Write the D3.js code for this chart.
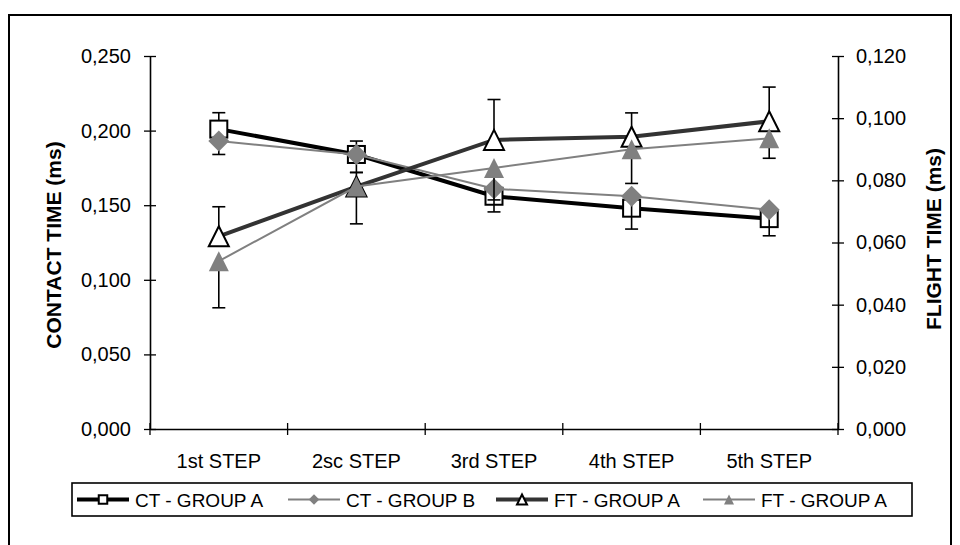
<!DOCTYPE html>
<html>
<head>
<meta charset="utf-8">
<script src="https://cdn.jsdelivr.net/npm/d3@7"></script>
<style>
  html, body { margin: 0; padding: 0; background: #fff; }
  svg text { font-family: "Liberation Sans", Arial, sans-serif; }
</style>
</head>
<body>
<svg id="chart" width="960" height="545"></svg>
<script>
// ---- data ----
const categories = ["1st STEP", "2sc STEP", "3rd STEP", "4th STEP", "5th STEP"];
const ctGroupA    = [0.201, 0.184, 0.156, 0.148, 0.141];
const ctGroupAErr = [0.011, 0.009, 0.005, 0.005, 0.005];   // plus
const ctGroupB    = [0.193, 0.184, 0.161, 0.156, 0.147];
const ctGroupBErr = [0.009, 0.012, 0.0155, 0.022, 0.0175]; // minus
const ftGroupA    = [0.062, 0.078, 0.093, 0.094, 0.099];
const ftGroupAErr = [0.0095, 0.0045, 0.013, 0.0077, 0.011]; // plus
const ftGroupA2   = [0.054, 0.078, 0.084, 0.090, 0.0935];
const ftGroupA2Err= [0.015, 0.012, 0.0103, 0.011, 0.0064];  // minus
const leftTicks  = [0, 0.05, 0.10, 0.15, 0.20, 0.25];
const rightTicks = [0, 0.02, 0.04, 0.06, 0.08, 0.10, 0.12];
const legendLabels = ["CT - GROUP A", "CT - GROUP B", "FT - GROUP A", "FT - GROUP A"];

const svg = d3.select("#chart");
const fmt = v => d3.format(".3f")(v).replace(".", ",");

// frame
svg.append("rect").attr("x", 9).attr("y", 15).attr("width", 942).attr("height", 560)
  .attr("fill", "none").attr("stroke", "#000").attr("stroke-width", 2);

const plotL = 150, plotR = 838, plotT = 56, plotB = 429;
const x = d3.scaleBand().domain(categories).range([plotL, plotR]);
const yL = d3.scaleLinear().domain([0, 0.25]).range([plotB, plotT]);
const yR = d3.scaleLinear().domain([0, 0.12]).range([plotB, plotT]);
const cx = c => x(c) + x.bandwidth() / 2;

// axes
const axL = svg.append("g").attr("transform", `translate(${plotL},0)`)
  .call(d3.axisLeft(yL).tickValues(leftTicks).tickFormat(fmt).tickSizeInner(6).tickSizeOuter(0).tickPadding(13));
axL.selectAll(".tick line").attr("x2", 6).attr("x1", -6);
const axR = svg.append("g").attr("transform", `translate(${plotR},0)`)
  .call(d3.axisRight(yR).tickValues(rightTicks).tickFormat(fmt).tickSizeInner(6).tickSizeOuter(0).tickPadding(12));
axR.selectAll(".tick line").attr("x1", -6).attr("x2", 6);
const axB = svg.append("g").attr("transform", `translate(0,${plotB})`)
  .call(d3.axisBottom(x).tickSize(0).tickPadding(25));
// category boundary ticks
axB.selectAll(".bound").data(d3.range(categories.length + 1)).enter().append("line")
  .attr("x1", i => plotL + i * x.step()).attr("x2", i => plotL + i * x.step())
  .attr("y1", -6).attr("y2", 6).attr("stroke", "#000").attr("stroke-width", 1.3);

[axL, axR, axB].forEach(a => {
  a.selectAll("path.domain").attr("stroke", "#000").attr("stroke-width", 1.6);
  a.selectAll(".tick line").attr("stroke", "#000").attr("stroke-width", 1.3);
  a.selectAll("text").attr("font-size", 20).attr("fill", "#000")
    .style("font-family", "'Liberation Sans', Arial, sans-serif");
});

// axis titles
svg.append("text").attr("transform", `translate(61,245) rotate(-90)`)
  .attr("text-anchor", "middle").attr("font-size", 21).attr("font-weight", "bold")
  .text("CONTACT TIME (ms)");
svg.append("text").attr("transform", `translate(941,239) rotate(-90)`)
  .attr("text-anchor", "middle").attr("font-size", 21).attr("font-weight", "bold")
  .text("FLIGHT TIME (ms)");

// series definitions
const series = [
  { vals: ctGroupA,  err: ctGroupAErr,  dir: 1,  y: yL, color: "#000",   width: 4, marker: "square" },
  { vals: ctGroupB,  err: ctGroupBErr,  dir: -1, y: yL, color: "#808080", width: 2, marker: "diamond" },
  { vals: ftGroupA,  err: ftGroupAErr,  dir: 1,  y: yR, color: "#333",   width: 4, marker: "openTri" },
  { vals: ftGroupA2, err: ftGroupA2Err, dir: -1, y: yR, color: "#808080", width: 2, marker: "grayTri" }
];

function drawMarker(g, type, px, py, scale) {
  const s = scale || 1;
  if (type === "square") {
    const h = 8.5 * s;
    g.append("rect").attr("x", px - h).attr("y", py - h).attr("width", 2 * h).attr("height", 2 * h)
      .attr("fill", "#fff").attr("stroke", "#000").attr("stroke-width", 2);
  } else if (type === "diamond") {
    const h = 10.5 * s;
    g.append("path").attr("d", `M${px},${py - h}L${px + h},${py}L${px},${py + h}L${px - h},${py}Z`)
      .attr("fill", "#808080");
  } else {
    const w = 10 * s, h = 10 * s;
    const p = g.append("path").attr("d", `M${px},${py - h}L${px + w},${py + h}L${px - w},${py + h}Z`);
    if (type === "openTri") p.attr("fill", "#fff").attr("stroke", "#000").attr("stroke-width", 2).attr("stroke-linejoin", "miter");
    else p.attr("fill", "#808080");
  }
}

series.forEach(s => {
  const g = svg.append("g");
  const line = d3.line().x((d, i) => cx(categories[i])).y(d => s.y(d));
  g.append("path").datum(s.vals).attr("d", line).attr("fill", "none")
    .attr("stroke", s.color).attr("stroke-width", s.width);
  // error bars
  s.vals.forEach((v, i) => {
    const px = cx(categories[i]);
    const y0 = s.y(v), y1 = s.y(v + s.dir * s.err[i]);
    g.append("line").attr("x1", px).attr("x2", px).attr("y1", y0).attr("y2", y1)
      .attr("stroke", "#000").attr("stroke-width", 1.6);
    g.append("line").attr("x1", px - 6.5).attr("x2", px + 6.5).attr("y1", y1).attr("y2", y1)
      .attr("stroke", "#000").attr("stroke-width", 1.6);
  });
  s.vals.forEach((v, i) => drawMarker(g, s.marker, cx(categories[i]), s.y(v)));
});

// legend
svg.append("rect").attr("x", 72).attr("y", 483).attr("width", 840).attr("height", 33)
  .attr("fill", "#fff").attr("stroke", "#000").attr("stroke-width", 1.6);
const legStarts = [77, 288, 496, 703];
series.forEach((s, i) => {
  const g = svg.append("g");
  const x0 = legStarts[i], ly = 499.5;
  g.append("line").attr("x1", x0).attr("x2", x0 + 52).attr("y1", ly).attr("y2", ly)
    .attr("stroke", s.color).attr("stroke-width", s.width);
  drawMarker(g, s.marker, x0 + 26, ly, 0.5);
  g.append("text").attr("x", x0 + 58).attr("y", ly + 7).attr("font-size", 19)
    .text(legendLabels[i]);
});
</script>
</body>
</html>
